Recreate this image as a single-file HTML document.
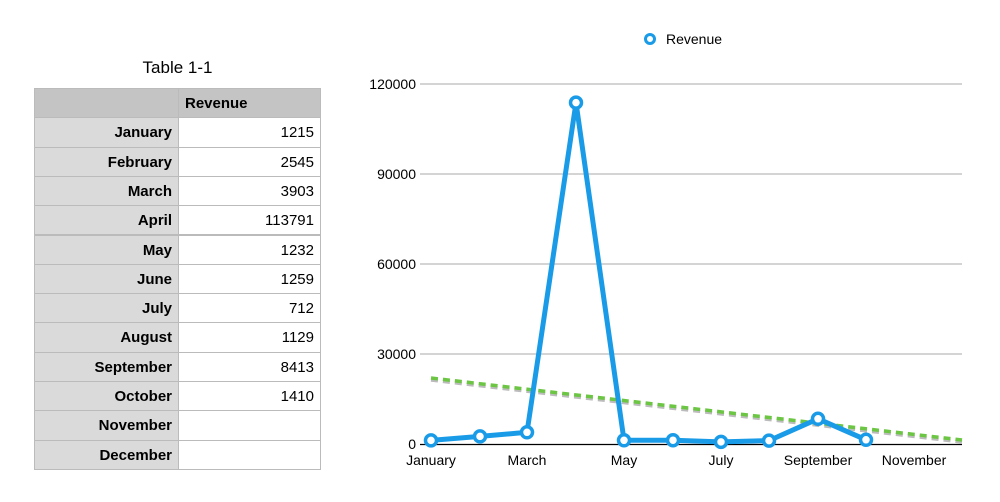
<!DOCTYPE html>
<html><head><style>
body{margin:0;width:1000px;height:502px;background:#fff;font-family:"Liberation Sans",sans-serif;overflow:hidden;position:relative}
.r{position:absolute;left:34px;width:287px;height:29.3px;font-size:15px;line-height:29px}
.r div{position:absolute;top:0;height:30.3px;box-sizing:border-box;border:1px solid #bbb;padding:0 6px}
.a{left:0;width:145px;background:#dadada;font-weight:bold;text-align:right}
.b{left:144px;width:143px;background:#fff;text-align:right}
</style></head><body>
<div style="position:absolute;left:34px;width:287px;top:58px;text-align:center;font-size:17px">Table 1-1</div>
<div class="r" style="top:88px"><div class="a" style="background:#c4c4c4"></div><div class="b" style="background:#c4c4c4;text-align:left;font-weight:bold">Revenue</div></div>
<div class="r" style="top:117.3px"><div class="a">January</div><div class="b">1215</div></div>
<div class="r" style="top:146.6px"><div class="a">February</div><div class="b">2545</div></div>
<div class="r" style="top:175.9px"><div class="a">March</div><div class="b">3903</div></div>
<div class="r" style="top:205.2px"><div class="a">April</div><div class="b">113791</div></div>
<div class="r" style="top:234.5px"><div class="a">May</div><div class="b">1232</div></div>
<div class="r" style="top:263.8px"><div class="a">June</div><div class="b">1259</div></div>
<div class="r" style="top:293.1px"><div class="a">July</div><div class="b">712</div></div>
<div class="r" style="top:322.4px"><div class="a">August</div><div class="b">1129</div></div>
<div class="r" style="top:351.7px"><div class="a">September</div><div class="b">8413</div></div>
<div class="r" style="top:381px"><div class="a">October</div><div class="b">1410</div></div>
<div class="r" style="top:410.3px"><div class="a">November</div><div class="b"></div></div>
<div class="r" style="top:439.6px"><div class="a">December</div><div class="b"></div></div>
<svg width="1000" height="502" style="position:absolute;left:0;top:0" font-family="Liberation Sans, sans-serif" font-size="14">
<circle cx="650" cy="39" r="4.5" fill="#fff" stroke="#1a9be8" stroke-width="3"/>
<text x="666" y="44">Revenue</text>
<g stroke="#bbb" stroke-width="1.2">
<line x1="420" y1="84" x2="962" y2="84"/><line x1="420" y1="174" x2="962" y2="174"/>
<line x1="420" y1="264" x2="962" y2="264"/><line x1="420" y1="354" x2="962" y2="354"/>
</g>
<line x1="420" y1="444.5" x2="962" y2="444.5" stroke="#000" stroke-width="1.3"/>
<g text-anchor="end"><text x="416" y="89">120000</text><text x="416" y="179">90000</text><text x="416" y="269">60000</text><text x="416" y="359">30000</text><text x="416" y="449">0</text></g>
<g text-anchor="middle"><text x="431" y="465">January</text><text x="527" y="465">March</text><text x="624" y="465">May</text><text x="721" y="465">July</text><text x="818" y="465">September</text><text x="914" y="465">November</text></g>
<line x1="431" y1="380" x2="962" y2="442" stroke="#bbb" stroke-width="3.5" stroke-dasharray="7,5"/>
<line x1="431" y1="378" x2="962" y2="440" stroke="#6cc644" stroke-width="3.5" stroke-dasharray="7,5"/>
<polyline fill="none" stroke="#1a9be8" stroke-width="5" stroke-linejoin="round" points="431,440.4 480,436.4 527,432.3 576,102.6 624,440.3 673,440.2 721,441.9 769,440.6 818,418.8 866,439.8"/>
<g fill="#fff" stroke="#1a9be8" stroke-width="3.5">
<circle cx="431" cy="440.4" r="5.5"/><circle cx="480" cy="436.4" r="5.5"/><circle cx="527" cy="432.3" r="5.5"/><circle cx="576" cy="102.6" r="5.5"/><circle cx="624" cy="440.3" r="5.5"/><circle cx="673" cy="440.2" r="5.5"/><circle cx="721" cy="441.9" r="5.5"/><circle cx="769" cy="440.6" r="5.5"/><circle cx="818" cy="418.8" r="5.5"/><circle cx="866" cy="439.8" r="5.5"/>
</g>
</svg>
</body></html>
